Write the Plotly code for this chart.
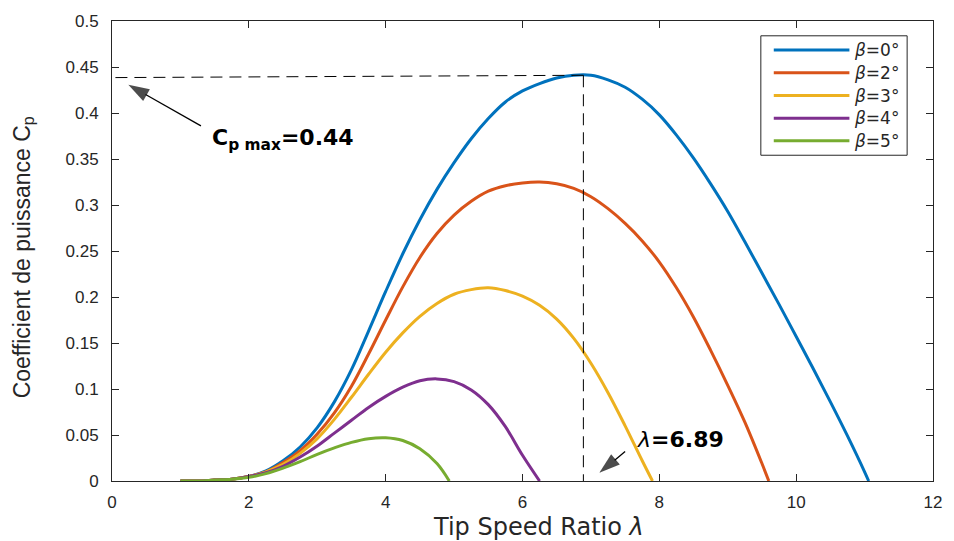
import math
import plotly.graph_objects as go

# ---------------- data ----------------
lam_b0 = [1.0, 1.25, 1.5, 1.75, 2.0, 2.25, 2.5, 2.75, 3.0, 3.25, 3.5, 3.75, 4.0, 4.25, 4.5, 4.75, 5.0, 5.25,
          5.5, 5.75, 6.0, 6.25, 6.5, 6.75, 7.0, 7.25, 7.5, 7.75, 8.0, 8.25, 8.5, 8.75, 9.0, 9.25, 9.5, 9.75,
          10.0, 10.25, 10.5, 10.75, 11.0, 11.06]
cp_b0 = [0.000, 0.000, 0.001, 0.002, 0.005, 0.011, 0.022, 0.037, 0.058, 0.086, 0.121, 0.163, 0.206, 0.247,
         0.284, 0.317, 0.346, 0.372, 0.394, 0.412, 0.424, 0.432, 0.438, 0.441, 0.441, 0.436, 0.428, 0.415,
         0.398, 0.376, 0.351, 0.323, 0.293, 0.260, 0.226, 0.192, 0.157, 0.122, 0.086, 0.049, 0.010, 0.0]

lam_b2 = [1.0, 1.25, 1.5, 1.75, 2.0, 2.25, 2.5, 2.75, 3.0, 3.25, 3.5, 3.75, 4.0, 4.25, 4.5, 4.75, 5.0, 5.25,
          5.5, 5.75, 6.0, 6.25, 6.5, 6.75, 7.0, 7.25, 7.5, 7.75, 8.0, 8.25, 8.5, 8.75, 9.0, 9.25, 9.5, 9.6]
cp_b2 = [0.000, 0.000, 0.001, 0.002, 0.005, 0.010, 0.020, 0.033, 0.051, 0.074, 0.103, 0.138, 0.175, 0.211,
         0.243, 0.269, 0.289, 0.304, 0.315, 0.321, 0.324, 0.325, 0.323, 0.318, 0.309, 0.296, 0.280, 0.261,
         0.238, 0.210, 0.178, 0.142, 0.104, 0.064, 0.019, 0.0]

lam_b3 = [1.0, 1.25, 1.5, 1.75, 2.0, 2.25, 2.5, 2.75, 3.0, 3.25, 3.5, 3.75, 4.0, 4.25, 4.5, 4.75, 5.0, 5.25,
          5.5, 5.75, 6.0, 6.25, 6.5, 6.75, 7.0, 7.25, 7.5, 7.75, 7.9]
cp_b3 = [0.000, 0.000, 0.001, 0.002, 0.005, 0.010, 0.018, 0.030, 0.046, 0.067, 0.091, 0.116, 0.140, 0.161,
         0.179, 0.193, 0.203, 0.208, 0.210, 0.207, 0.201, 0.191, 0.176, 0.155, 0.128, 0.096, 0.060, 0.022, 0.0]

lam_b4 = [1.0, 1.25, 1.5, 1.75, 2.0, 2.25, 2.5, 2.75, 3.0, 3.25, 3.5, 3.75, 4.0, 4.25, 4.5, 4.75, 5.0, 5.25,
          5.5, 5.75, 6.0, 6.25]
cp_b4 = [0.000, 0.000, 0.001, 0.002, 0.005, 0.009, 0.016, 0.026, 0.038, 0.052, 0.066, 0.080, 0.092, 0.102,
         0.109, 0.111, 0.108, 0.099, 0.083, 0.059, 0.028, 0.0]

lam_b5 = [1.0, 1.25, 1.5, 1.75, 2.0, 2.25, 2.5, 2.75, 3.0, 3.25, 3.5, 3.75, 4.0, 4.25, 4.5, 4.75, 4.93]
cp_b5 = [0.000, 0.000, 0.001, 0.002, 0.004, 0.008, 0.014, 0.021, 0.029, 0.036, 0.042, 0.046, 0.047, 0.044,
         0.035, 0.019, 0.0]

series_names = ["<i>β</i>=0°", "<i>β</i>=2°", "<i>β</i>=3°", "<i>β</i>=4°", "<i>β</i>=5°"]
series_lam = [lam_b0, lam_b2, lam_b3, lam_b4, lam_b5]
series_cp = [cp_b0, cp_b2, cp_b3, cp_b4, cp_b5]
colors = ["#0072BD", "#D95319", "#EDB120", "#7E2F8E", "#77AC30"]

x_ticks = [0, 2, 4, 6, 8, 10, 12]
y_ticks = [0, 0.05, 0.1, 0.15, 0.2, 0.25, 0.3, 0.35, 0.4, 0.45, 0.5]
y_ticklabels = ["0", "0.05", "0.1", "0.15", "0.2", "0.25", "0.3", "0.35", "0.4", "0.45", "0.5"]

lam_opt = 6.89
cp_max = 0.441
cp_dash_start = 0.4385
cp_max_label = "0.44"
lam_opt_label = "6.89"

# ---------------- figure ----------------
F_HELV = "Liberation Sans, Arial, Helvetica, sans-serif"
F_WIDE = "DejaVu Sans, Verdana, sans-serif"
TXT = "#262626"
W, H = 954, 541
ML, MR, MT, MB = 112, 17, 15, 60
PW, PH = W - ML - MR, H - MT - MB
X_RANGE = [0, 12]
Y_RANGE = [0, 0.5]
PPX = PW / (X_RANGE[1] - X_RANGE[0])
PPY = PH / (Y_RANGE[1] - Y_RANGE[0])


def px_x(p):
    return (p - ML) / PW


def px_y(p):
    return (H - MB - p) / PH


fig = go.Figure()
for name, lx, cy, col in zip(series_names, series_lam, series_cp, colors):
    fig.add_trace(go.Scatter(x=lx, y=cy, mode="lines", name=name,
                             line=dict(color=col, width=3, shape="spline", smoothing=1.0),
                             showlegend=False, hoverinfo="skip"))


def add_arrow(x_tail, y_tail, x_head, y_head, size=22):
    dxp = (x_tail - x_head) * PPX
    dyp = (y_tail - y_head) * PPY
    L = math.hypot(dxp, dyp)
    back = size * 0.5
    hx = x_head + dxp / L * back / PPX
    hy = y_head + dyp / L * back / PPY
    fig.add_trace(go.Scatter(x=[x_tail, hx], y=[y_tail, hy], mode="lines+markers",
                             line=dict(color="black", width=1.3),
                             marker=dict(symbol=["circle", "arrow"], size=[0, size], color="black",
                                         angleref="previous", line=dict(width=0)),
                             showlegend=False, hoverinfo="skip"))


add_arrow(1.30, 0.386, 0.10, 0.4365)
add_arrow(7.50, 0.032, 7.00, 0.0015)

shapes = []
dash = "12px,7px"
shapes.append(dict(type="line", xref="x", yref="y", x0=0.05, y0=cp_dash_start, x1=lam_opt, y1=cp_max,
                   line=dict(color="black", width=1, dash=dash)))
shapes.append(dict(type="line", xref="x", yref="y", x0=lam_opt, y0=cp_max, x1=lam_opt, y1=0,
                   line=dict(color="black", width=1, dash=dash)))

# manual legend (MATLAB style)
lx0, lx1, ly0, ly1 = 764, 911, 30, 151
shapes.append(dict(type="rect", xref="paper", yref="paper",
                   x0=px_x(lx0), x1=px_x(lx1), y0=px_y(ly1), y1=px_y(ly0),
                   line=dict(color=TXT, width=1), fillcolor="white", layer="above"))
annotations = []
row_y = [44.3, 67.5, 90.5, 113.5, 136.3]
for name, col, ry in zip(series_names, colors, row_y):
    shapes.append(dict(type="line", xref="paper", yref="paper",
                       x0=px_x(777), x1=px_x(853), y0=px_y(ry), y1=px_y(ry),
                       line=dict(color=col, width=3), layer="above"))
    annotations.append(dict(xref="paper", yref="paper", x=px_x(856), y=px_y(ry),
                            text=name, showarrow=False, xanchor="left", yanchor="middle",
                            font=dict(family=F_WIDE, size=17, color=TXT)))

annotations.append(dict(x=1.43, y=0.371, xref="x", yref="y",
                        text="<b>C<sub>p max</sub>=" + cp_max_label + "</b>", showarrow=False,
                        xanchor="left", yanchor="middle",
                        font=dict(family=F_WIDE, size=22, color="black")))
annotations.append(dict(x=7.65, y=0.045, xref="x", yref="y",
                        text="<i>λ</i><b>=" + lam_opt_label + "</b>", showarrow=False,
                        xanchor="left", yanchor="middle",
                        font=dict(family=F_WIDE, size=22, color="black")))

# axis titles
annotations.append(dict(xref="paper", yref="paper", x=px_x(541), y=px_y(527.5),
                        text="Tip Speed Ratio <i>λ</i>", showarrow=False,
                        xanchor="center", yanchor="middle",
                        font=dict(family=F_WIDE, size=24, color=TXT)))
annotations.append(dict(xref="paper", yref="paper", x=px_x(23), y=px_y(254),
                        text="Coefficient de puissance C<sub>p</sub>", showarrow=False, textangle=-90,
                        xanchor="center", yanchor="middle",
                        font=dict(family=F_HELV, size=23, color=TXT)))

axis_common = dict(showline=True, linecolor=TXT, linewidth=1, mirror="ticks",
                   ticks="inside", ticklen=7, tickwidth=1, tickcolor=TXT,
                   showgrid=False, zeroline=False,
                   tickfont=dict(family=F_HELV, size=17, color=TXT))

fig.update_layout(
    width=W, height=H,
    margin=dict(l=ML, r=MR, t=MT, b=MB),
    paper_bgcolor="white", plot_bgcolor="white",
    showlegend=False,
    xaxis=dict(range=X_RANGE, tickvals=x_ticks, ticklabelstandoff=6, **axis_common),
    yaxis=dict(range=Y_RANGE, tickvals=y_ticks, ticktext=y_ticklabels, ticklabelstandoff=9, **axis_common),
    shapes=shapes, annotations=annotations,
)

fig.write_html("out.html")
